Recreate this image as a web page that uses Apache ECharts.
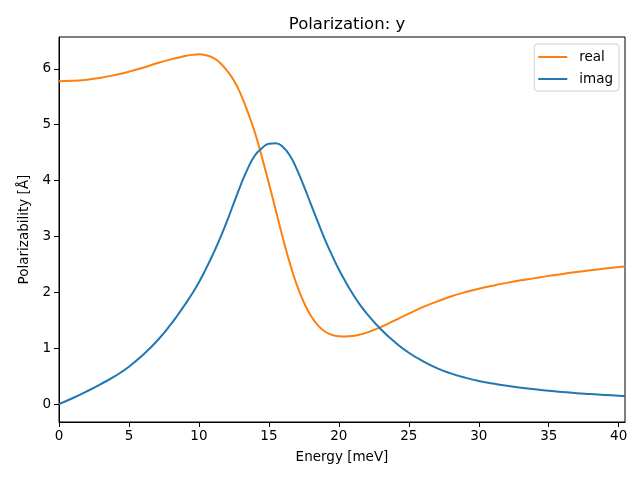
<!DOCTYPE html>
<html>
<head>
<meta charset="utf-8">
<script src="https://cdn.jsdelivr.net/npm/echarts@6/dist/echarts.min.js"></script>
<style>html,body{margin:0;padding:0;background:#fff}#c{width:640px;height:480px}</style>
</head>
<body>
<div id="c"></div>
<script>
const energy = [0,1,2,3,4,5,6,7,8,8.5,9,9.5,10,10.5,11,11.5,12,12.5,13,13.5,14,14.5,15,15.5,16,16.5,17,17.5,18,18.5,19,19.5,20,20.5,21,21.5,22,23,24,25,26,27,28,29,30,31,32,33,34,35,36,37,38,39,40,40.45];
const realVals = [5.78,5.785,5.805,5.84,5.89,5.95,6.02,6.10,6.17,6.20,6.23,6.25,6.26,6.245,6.20,6.11,5.97,5.79,5.54,5.22,4.86,4.42,3.95,3.46,2.97,2.52,2.13,1.82,1.58,1.41,1.30,1.24,1.215,1.21,1.22,1.245,1.28,1.38,1.50,1.62,1.735,1.835,1.925,2.00,2.065,2.12,2.17,2.215,2.255,2.295,2.33,2.365,2.395,2.425,2.455,2.465];
const imagVals = [0,0.11,0.23,0.36,0.50,0.67,0.88,1.13,1.43,1.60,1.78,1.97,2.18,2.42,2.68,2.96,3.27,3.60,3.93,4.22,4.45,4.58,4.66,4.67,4.60,4.45,4.20,3.90,3.58,3.26,2.95,2.67,2.41,2.18,1.97,1.78,1.62,1.34,1.11,0.92,0.77,0.645,0.55,0.475,0.415,0.37,0.33,0.295,0.265,0.24,0.215,0.195,0.18,0.165,0.15,0.145];
const xTicks = [0,5,10,15,20,25,30,35,40];
const yTicks = [0,1,2,3,4,5,6];

const chart = echarts.init(document.getElementById('c'), null, {renderer:'canvas'});
const font = 'DejaVu Sans';
chart.setOption({
  animation:false,
  backgroundColor:'#fff',
  title:{text:'Polarization: y', left:342, top:11, textAlign:'center',
    textStyle:{fontFamily:font, fontSize:16.5, fontWeight:'normal', color:'#000'}},
  grid:{left:59, right:15, top:37, bottom:58, show:true, borderColor:'#000', borderWidth:1, backgroundColor:'transparent'},
  legend:{orient:'vertical', right:21, top:44, icon:'rect', itemWidth:29, itemHeight:2, itemGap:8,
    padding:[6,6,5,4], borderColor:'#d0d0d0', borderWidth:1, borderRadius:3, backgroundColor:'#fff',
    textStyle:{fontFamily:font, fontSize:13.5, color:'#000', padding:[0,0,0,7]}, data:['real','imag']},
  xAxis:{type:'value', min:0, max:40.45, name:'Energy [meV]', nameLocation:'middle', nameGap:28,
    nameTextStyle:{fontFamily:font, fontSize:13.5, color:'#000'},
    axisLine:{show:true, onZero:false, lineStyle:{color:'#000', width:1}},
    axisTick:{show:true, length:5, inside:false, customValues:xTicks, lineStyle:{color:'#000'}},
    axisLabel:{customValues:xTicks, margin:7, fontFamily:font, fontSize:13.5, color:'#000'},
    splitLine:{show:false}},
  yAxis:{type:'value', min:-0.32, max:6.57, name:'Polarizability [Å]', nameLocation:'middle', nameGap:25,
    nameTextStyle:{fontFamily:font, fontSize:13.5, color:'#000'},
    axisLine:{show:true, onZero:false, lineStyle:{color:'#000', width:1}},
    axisTick:{show:true, length:5, inside:false, customValues:yTicks, lineStyle:{color:'#000'}},
    axisLabel:{customValues:yTicks, margin:8, fontFamily:font, fontSize:13.5, color:'#000'},
    splitLine:{show:false}},
  series:[
    {name:'real', type:'line', data:energy.map((e,i)=>[e,realVals[i]]), showSymbol:false, symbol:'none', smooth:true,
      lineStyle:{color:'#ff7f0e', width:2}, itemStyle:{color:'#ff7f0e'}},
    {name:'imag', type:'line', data:energy.map((e,i)=>[e,imagVals[i]]), showSymbol:false, symbol:'none', smooth:true,
      lineStyle:{color:'#1f77b4', width:2}, itemStyle:{color:'#1f77b4'}}
  ]
});
</script>
</body>
</html>
